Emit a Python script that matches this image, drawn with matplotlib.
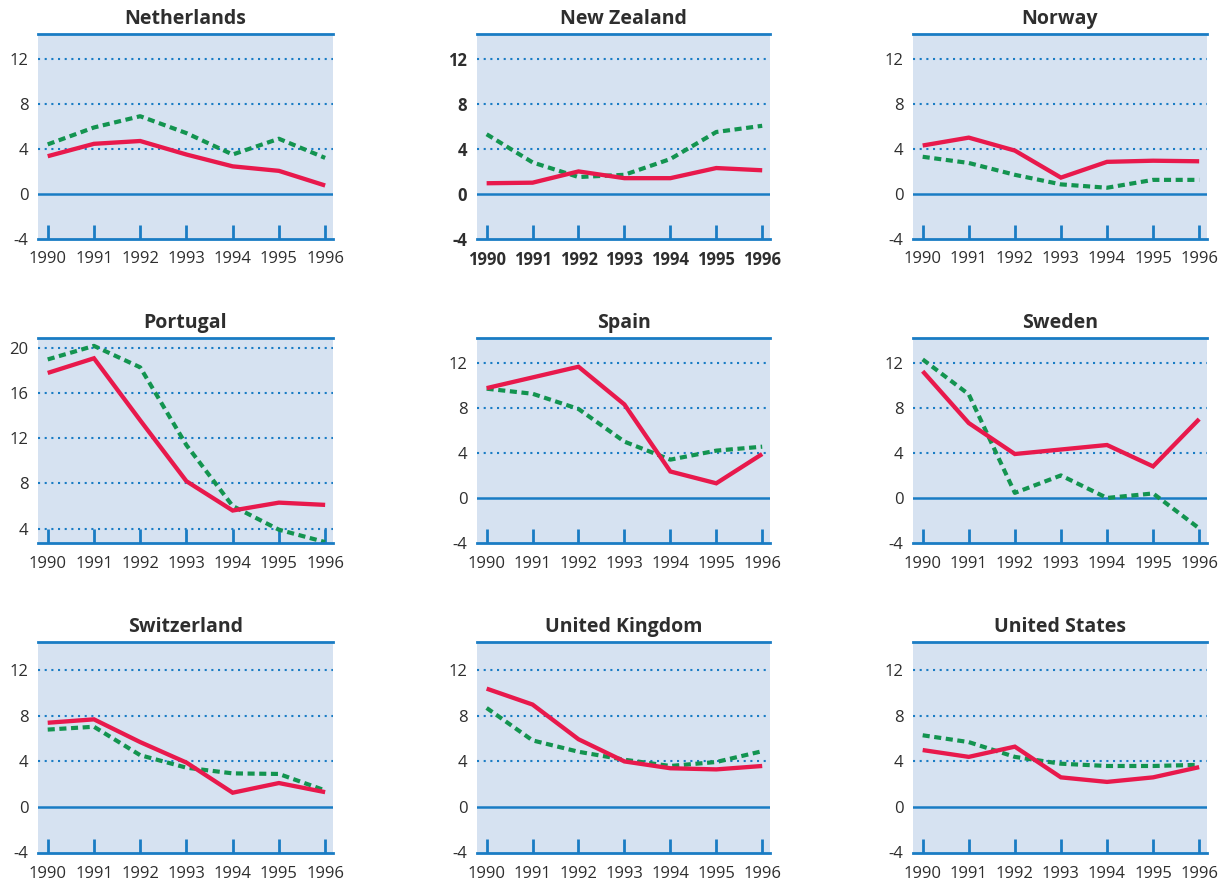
import matplotlib
matplotlib.use("Agg")
import matplotlib.pyplot as plt

plt.rcParams['font.family'] = ['Open Sans', 'DejaVu Sans']

years = [1990, 1991, 1992, 1993, 1994, 1995, 1996]

countries = ["Netherlands", "New Zealand", "Norway",
             "Portugal", "Spain", "Sweden",
             "Switzerland", "United Kingdom", "United States"]

# solid red series
netherlands_red = [3.35, 4.45, 4.7, 3.5, 2.45, 2.05, 0.75]
new_zealand_red = [0.95, 1.0, 2.0, 1.4, 1.4, 2.3, 2.1]
norway_red = [4.3, 5.0, 3.85, 1.45, 2.85, 2.95, 2.9]
portugal_red = [17.8, 19.1, 13.6, 8.2, 5.6, 6.3, 6.1]
spain_red = [9.75, 10.7, 11.65, 8.3, 2.35, 1.3, 3.9]
sweden_red = [11.25, 6.65, 3.9, 4.3, 4.7, 2.8, 7.0]
switzerland_red = [7.4, 7.7, 5.7, 3.9, 1.25, 2.1, 1.3]
uk_red = [10.4, 9.0, 5.95, 4.0, 3.4, 3.3, 3.6]
us_red = [5.0, 4.4, 5.3, 2.6, 2.2, 2.6, 3.5]

# dotted green series
netherlands_green = [4.4, 5.9, 6.9, 5.4, 3.5, 4.9, 3.2]
new_zealand_green = [5.3, 2.8, 1.5, 1.7, 3.1, 5.5, 6.05]
norway_green = [3.3, 2.75, 1.7, 0.85, 0.55, 1.25, 1.25]
portugal_green = [19.0, 20.2, 18.3, 11.4, 6.0, 3.9, 2.8]
spain_green = [9.7, 9.25, 7.9, 5.0, 3.4, 4.2, 4.55]
sweden_green = [12.3, 9.2, 0.45, 2.0, 0.0, 0.4, -2.7]
switzerland_green = [6.8, 7.05, 4.55, 3.45, 2.95, 2.9, 1.45]
uk_green = [8.7, 5.85, 4.85, 4.15, 3.6, 3.95, 4.9]
us_green = [6.3, 5.7, 4.4, 3.8, 3.6, 3.6, 3.7]

red_series = [netherlands_red, new_zealand_red, norway_red, portugal_red, spain_red,
              sweden_red, switzerland_red, uk_red, us_red]
green_series = [netherlands_green, new_zealand_green, norway_green, portugal_green,
                spain_green, sweden_green, switzerland_green, uk_green, us_green]

std_ticks = [-4, 0, 4, 8, 12]
portugal_ticks = [4, 8, 12, 16, 20]

W, H = 1229, 884
fig = plt.figure(figsize=(W / 100, H / 100), dpi=100)
fig.patch.set_facecolor('white')

col_px = [(38, 333), (477, 770), (913, 1207)]
row_px = [(34, 239), (338, 543), (642, 853)]

BG = '#d6e2f1'
BLUE = '#1a7cc4'
RED = '#e8194c'
GREEN = '#139450'
TXT = '#2e2e2e'

for i, name in enumerate(countries):
    r, c = divmod(i, 3)
    x0, x1 = col_px[c]
    y0, y1 = row_px[r]
    ax = fig.add_axes([x0 / W, 1 - y1 / H, (x1 - x0) / W, (y1 - y0) / H])
    ax.set_facecolor(BG)

    if name == "Portugal":
        ticks = portugal_ticks
        ylim = (2.72, 20.9)
    else:
        ticks = std_ticks
        ylim = (-4.0, 14.2) if r < 2 else (-4.05, 14.5)
    ax.set_ylim(*ylim)
    ax.set_xlim(1989.79, 1996.17)

    for t in ticks:
        if ylim[0] + 0.3 < t < ylim[1]:
            if t == 0:
                ax.axhline(t, color=BLUE, lw=1.8, zorder=1)
            else:
                ax.axhline(t, color=BLUE, lw=1.5, ls=(0, (1, 2.2)), zorder=1)

    ax.plot(years, red_series[i], color=RED, lw=3.1, solid_capstyle='butt',
            solid_joinstyle='miter', zorder=3)
    ax.plot(years, green_series[i], color=GREEN, lw=3.0, ls=(0, (1.7, 1.1)),
            dash_capstyle='butt', zorder=2)

    for s in ['left', 'right']:
        ax.spines[s].set_visible(False)
    for s in ['top', 'bottom']:
        ax.spines[s].set_color(BLUE)
        ax.spines[s].set_linewidth(2.0)

    weight = 'bold' if name == "New Zealand" else 'normal'
    ax.set_yticks(ticks)
    ax.set_yticklabels([str(t) for t in ticks], fontsize=12, color=TXT, fontweight=weight)
    ax.tick_params(axis='y', length=0, pad=7)
    ax.set_xticks(years)
    ax.set_xticklabels([str(y) for y in years], fontsize=12, color=TXT, fontweight=weight)
    ax.tick_params(axis='x', direction='in', length=10, width=2, color=BLUE, pad=9)

    ax.set_title(name, fontsize=14, fontweight='bold', color=TXT, pad=7)

fig.savefig('out.png', dpi=100, facecolor='white')
